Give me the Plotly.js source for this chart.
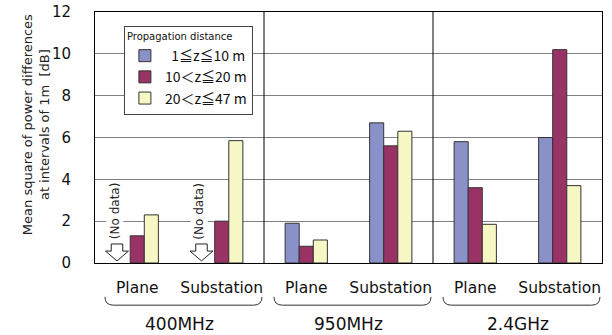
<!DOCTYPE html>
<html>
<head>
<meta charset="utf-8">
<script src="https://cdn.plot.ly/plotly-3.0.1.min.js"></script>
<style>
  html, body { margin: 0; padding: 0; background: #fff; }
  #chart { width: 612px; height: 335px; }
</style>
</head>
<body>
<div id="chart"></div>
<script>
// ---- data ----
const categories = ['Plane', 'Substation', 'Plane', 'Substation', 'Plane', 'Substation'];
const bands = ['400MHz', '950MHz', '2.4GHz'];
const seriesNames = ['\u00a0\u00a01\u2266z\u226610 m', '10\uff1cz\u226620 m', '20\uff1cz\u226647 m'];
const near = [null, null, 1.9, 6.7, 5.8, 6.0];      // 1≦z≦10 m
const mid = [1.3, 2.0, 0.8, 5.6, 3.6, 10.2];        // 10<z≦20 m
const far = [2.3, 5.85, 1.1, 6.3, 1.85, 3.7];       // 20<z≦47 m
const noDataLabel = '(No data)';
const yTicks = [0, 2, 4, 6, 8, 10, 12];

const colors = ['#8A90C8', '#993366', '#F7F7C6'];
const xIdx = categories.map((_, i) => i);

const traces = [near, mid, far].map((vals, k) => ({
  type: 'bar',
  name: seriesNames[k],
  x: xIdx,
  y: vals,
  marker: { color: colors[k], line: { color: '#333333', width: 1 } },
  hoverinfo: 'skip'
}));

const shapes = [];
const annotations = [];

// group separators
for (let g = 1; g < bands.length; g++) {
  shapes.push({ type: 'line', xref: 'x', yref: 'paper', x0: 2 * g - 0.5, x1: 2 * g - 0.5, y0: 0, y1: 1,
    line: { color: '#000', width: 1 } });
}

// braces + band labels
bands.forEach((b, g) => {
  const xa = 2 * g - 0.5 + 0.118, xb = 2 * g + 1.5 - 0.024;
  const yt = -0.135, yb = -0.168, r = 0.1;
  shapes.push({ type: 'path', xref: 'x', yref: 'paper',
    path: `M ${xa},${yt} Q ${xa},${yb} ${xa + r},${yb} L ${xb - r},${yb} Q ${xb},${yb} ${xb},${yt}`,
    line: { color: '#333', width: 1 } });
  annotations.push({ xref: 'x', yref: 'paper', x: 2 * g + 0.5, y: -0.243, text: b, showarrow: false,
    font: { family: 'DejaVu Sans', size: 17, color: '#111' }, xanchor: 'center', yanchor: 'middle' });
});

// no-data arrows
near.forEach((v, i) => {
  if (v !== null) return;
  const cx = i - 0.24;
  const sw = 0.068, hw = 0.136, yTop = 0.91, yNeck = 0.57, yTip = 0.1;
  shapes.push({ type: 'path', xref: 'x', yref: 'y',
    path: `M ${cx - sw},${yTop} L ${cx + sw},${yTop} L ${cx + sw},${yNeck} L ${cx + hw},${yNeck} L ${cx},${yTip} L ${cx - hw},${yNeck} L ${cx - sw},${yNeck} Z`,
    fillcolor: '#fff', line: { color: '#222', width: 1 } });
  annotations.push({ xref: 'x', yref: 'y', x: cx - 0.03, y: 2.5, text: noDataLabel, textangle: -90, showarrow: false,
    font: { family: 'DejaVu Sans', size: 12, color: '#222' }, xanchor: 'center', yanchor: 'middle', bgcolor: '#fff' });
});

// y axis title
annotations.push({ xref: 'paper', yref: 'paper', x: -0.116, y: 0.55,
  text: 'Mean square of power differences<br>at intervals of 1m  [dB]', textangle: -90, showarrow: false,
  font: { family: 'DejaVu Sans', size: 13, color: '#222' }, xanchor: 'center', yanchor: 'middle' });

const layout = {
  width: 612, height: 335,
  margin: { l: 95, r: 10, t: 12, b: 72 },
  paper_bgcolor: '#fff', plot_bgcolor: '#fff',
  barmode: 'group', bargap: 0.5, bargroupgap: 0,
  xaxis: {
    range: [-0.5, 5.5], tickvals: xIdx, ticktext: categories, showgrid: false, zeroline: false,
    showline: true, linecolor: '#000', linewidth: 1, mirror: true, ticks: '',
    ticklabelstandoff: 10,
    tickfont: { family: 'DejaVu Sans', size: 15.5, color: '#111' }
  },
  yaxis: {
    range: [0, 12], tickvals: yTicks, ticktext: yTicks.map(String), showgrid: true, gridcolor: '#808080', gridwidth: 1,
    zeroline: false, showline: true, linecolor: '#000', linewidth: 1, mirror: true, ticks: '',
    ticklabelstandoff: 20,
    tickfont: { family: 'DejaVu Sans', size: 15, color: '#111' }
  },
  legend: {
    x: 0.057, y: 0.944, xanchor: 'left', yanchor: 'top',
    bgcolor: '#fff', bordercolor: '#444', borderwidth: 1,
    title: { text: 'Propagation distance', side: 'top', font: { family: 'DejaVu Sans', size: 10, color: '#111' } },
    font: { family: 'Noto Sans CJK JP', size: 14, color: '#111' },
    tracegroupgap: 0
  },
  showlegend: true,
  shapes: shapes,
  annotations: annotations
};

Plotly.newPlot('chart', traces, layout, { displayModeBar: false, staticPlot: true });
</script>
</body>
</html>
